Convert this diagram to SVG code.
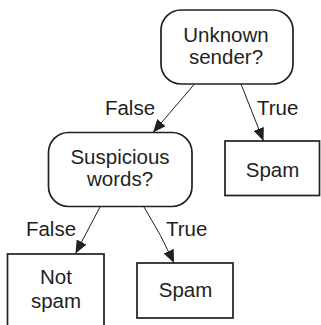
<svg xmlns="http://www.w3.org/2000/svg" width="321" height="325" viewBox="0 0 321 325">
<style>
.box{fill:#fff;stroke:#231f20;stroke-width:1.7}
.edge{stroke:#231f20;stroke-width:1;fill:none}
text{font-family:"Liberation Sans",Arial,sans-serif;font-size:20.5px;fill:#231f20}
.c{text-anchor:middle}
</style>
<defs>
<marker id="arrow" markerUnits="userSpaceOnUse" markerWidth="13" markerHeight="11" refX="13" refY="5.5" orient="auto">
<path d="M0,0 L13,5.5 L0,11 z" fill="#231f20"/>
</marker>
</defs>
<rect width="321" height="325" fill="#fff"/>
<g id="connectors">
<line class="edge" x1="194.5" y1="84" x2="153" y2="132.5" marker-end="url(#arrow)"/>
<line class="edge" x1="241" y1="84" x2="263.5" y2="141" marker-end="url(#arrow)"/>
<line class="edge" x1="100" y1="207" x2="75.5" y2="253.5" marker-end="url(#arrow)"/>
<path class="edge" d="M144,207 Q162,236 174,263" marker-end="url(#arrow)"/>
<text x="130" y="115" class="c">False</text>
<text x="257" y="115">True</text>
<text x="51" y="235.5" class="c">False</text>
<text x="166" y="235.5">True</text>
</g>
<g id="n-unknown">
<rect class="box" x="161" y="10" width="132" height="74" rx="20"/>
<text x="226" y="42" class="c">Unknown</text>
<text x="226" y="64" class="c">sender?</text>
</g>
<g id="n-suspicious">
<rect class="box" x="48.5" y="132.5" width="143.5" height="74" rx="20"/>
<text x="120" y="164" class="c">Suspicious</text>
<text x="120" y="186" class="c">words?</text>
</g>
<g id="n-spam1">
<rect class="box" x="225" y="141" width="94.5" height="54.5"/>
<text x="272.5" y="177" class="c">Spam</text>
</g>
<g id="n-notspam">
<rect class="box" x="7.5" y="254" width="96.5" height="80"/>
<text x="56" y="284" class="c">Not</text>
<text x="56" y="308" class="c">spam</text>
</g>
<g id="n-spam2">
<rect class="box" x="137" y="263" width="96" height="55"/>
<text x="185.5" y="297" class="c">Spam</text>
</g>
</svg>
